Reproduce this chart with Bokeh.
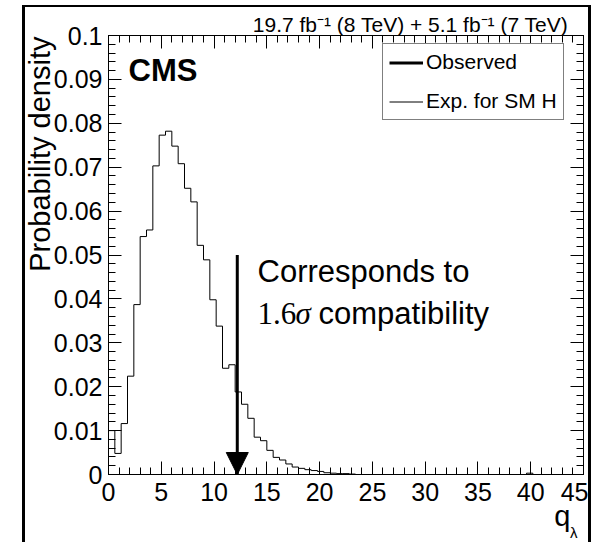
import math
from bokeh.plotting import figure
from bokeh.models import (Range1d, FixedTicker, LinearAxis, CustomJSTickFormatter,
                          Label, Legend, LegendItem, Arrow, NormalHead, Title)
from bokeh.embed import file_html
from bokeh.resources import INLINE

# ---- data ----
bin_width = 0.6
x_min, x_max = 0.0, 45.0
y_min, y_max = 0.0, 0.1
expected_density = [
    0.0100, 0.0048, 0.0116, 0.0224, 0.0387, 0.0542, 0.0557, 0.0703, 0.0773, 0.0782,
    0.0748, 0.0708, 0.0652, 0.0621, 0.0522, 0.0489, 0.0398, 0.0338, 0.0242, 0.0250,
    0.0188, 0.0160, 0.0128, 0.0085, 0.0077, 0.0055, 0.0039, 0.0033, 0.0024, 0.0017,
    0.0014, 0.0011, 0.0009, 0.0007, 0.0004, 0.0003, 0.0002, 0.0002, 0.0001, 0.0,
    0.0, 0.0, 0.0, 0.0, 0.0, 0.0, 0.0, 0.0, 0.0, 0.0,
    0.0, 0.0, 0.0, 0.0, 0.0, 0.0, 0.0, 0.0, 0.0, 0.0,
    0.0, 0.0, 0.0, 0.0, 0.0, 0.0, 0.0003, 0.0, 0.0, 0.0,
    0.0, 0.0, 0.0, 0.0, 0.0,
]
observed_q = 12.2
observed_arrow_top = 0.05
x_major_ticks = [0, 5, 10, 15, 20, 25, 30, 35, 40, 45]
x_minor_ticks = list(range(0, 46))
y_major_ticks = [i / 100 for i in range(0, 11)]
y_minor_ticks = [i / 500 for i in range(0, 51)]
legend_labels = ["Observed", "Exp. for SM H"]
lumi_text = "19.7 fb\u207b\u00b9 (8 TeV) + 5.1 fb\u207b\u00b9 (7 TeV)"
y_title = "Probability density"
x_title = "q"
x_title_sub = "\u03bb"
note_line1 = "Corresponds to"
note_num = "1.6"
note_sigma = "\u03c3"
note_rest = "compatibility"

FONT = "Liberation Sans"

# page geometry (reference pixels); canvas sits inside a CSS frame
OX, OY = 25, 7                     # canvas origin on the page
W, H = 569, 537                    # canvas size
FL, FT, FR, FB = 108, 35, 583, 474  # frame on the page
L, T = FL - OX, FT - OY
R, B = OX + W - FR, OY + H - FB
fw, fh = FR - FL, FB - FT
LABEL_DY = 10  # empirical baseline correction for labels


def px_to_x(px):
    return x_min + (px - FL) / fw * (x_max - x_min)


def py_to_y(py):
    return y_min + (FB - (py - LABEL_DY)) / fh * (y_max - y_min)


p = figure(width=W, height=H, output_backend="svg", toolbar_location=None,
           x_range=Range1d(x_min, x_max), y_range=Range1d(y_min, y_max),
           min_border_left=L, min_border_right=R, min_border_top=T, min_border_bottom=B,
           x_axis_type=None, y_axis_type=None)
p.margin = (5, 0, 0, 22)
p.styles = {"border-left": "3px solid black", "border-right": "3px solid black",
            "border-top": "2px solid black"}
p.grid.visible = False
p.outline_line_color = "black"
p.outline_line_width = 1
p.background_fill_color = "white"
p.border_fill_color = "white"

xt = FixedTicker(ticks=x_major_ticks, minor_ticks=x_minor_ticks)
yt = FixedTicker(ticks=y_major_ticks, minor_ticks=y_minor_ticks)
yfmt = CustomJSTickFormatter(code="""
    if (Math.abs(tick) < 1e-9) return "0";
    return String(Math.round(tick*100)/100);
""")
xfmt = CustomJSTickFormatter(code="return String(Math.round(tick));")


def style_axis(ax, labels=True):
    ax.axis_line_color = "black"
    ax.major_tick_line_color = "black"
    ax.minor_tick_line_color = "black"
    ax.major_tick_in = 13
    ax.major_tick_out = 0
    ax.minor_tick_in = 7
    ax.minor_tick_out = 0
    ax.major_label_text_font = FONT
    if labels:
        ax.major_label_text_color = "black"
        ax.major_label_text_font_size = "25px"
    else:
        ax.major_label_text_color = None
        ax.major_label_text_font_size = "0px"
        ax.major_label_standoff = 0


xb = LinearAxis(ticker=xt, formatter=xfmt)
style_axis(xb)
xb.major_label_standoff = 8
p.add_layout(xb, "below")
xa = LinearAxis(ticker=xt, formatter=xfmt)
style_axis(xa, labels=False)
p.add_layout(xa, "above")
yl = LinearAxis(ticker=yt, formatter=yfmt)
style_axis(yl)
yl.major_label_standoff = 6
p.add_layout(yl, "left")
yr = LinearAxis(ticker=yt, formatter=yfmt)
style_axis(yr, labels=False)
p.add_layout(yr, "right")

# titles outside the frame
t_lumi = Title(text=lumi_text, align="right", text_font=FONT, text_font_size="21px",
               text_font_style="normal", text_color="black", standoff=-1, offset=15)
p.add_layout(t_lumi, "above")
t_y = Title(text=y_title, align="right", text_font=FONT, text_font_size="29px",
            text_font_style="normal", text_color="black", standoff=-10, offset=1)
p.add_layout(t_y, "left")
t_q = Title(text=x_title, align="right", text_font=FONT, text_font_size="29px",
            text_font_style="normal", text_color="black", standoff=-12, offset=13)
p.add_layout(t_q, "below")
t_l = Title(text=x_title_sub, align="right", text_font=FONT, text_font_size="15px",
            text_font_style="normal", text_color="black", standoff=-8, offset=6)
p.add_layout(t_l, "below")

# histogram outline
edges = [x_min + i * bin_width for i in range(len(expected_density) + 1)]
step_y = list(expected_density) + [0.0]
hist = p.step(edges, step_y, mode="after", line_color="black", line_width=1)

# observed arrow
obs = p.segment(x0=[observed_q], y0=[observed_arrow_top], x1=[observed_q], y1=[y_min],
                line_color="black", line_width=3)
p.add_layout(Arrow(end=NormalHead(size=22, fill_color="black", line_color="black"),
                   x_start=observed_q, y_start=observed_arrow_top,
                   x_end=observed_q, y_end=y_min, line_alpha=0))

legend = Legend(items=[LegendItem(label=legend_labels[0], renderers=[obs]),
                       LegendItem(label=legend_labels[1], renderers=[hist])],
                location=(274, 354))
legend.border_line_color = "black"
legend.border_line_width = 1
legend.background_fill_alpha = 1
legend.label_text_font = FONT
legend.label_text_font_size = "21px"
legend.label_text_color = "black"
legend.glyph_width = 34
legend.glyph_height = 23
legend.label_height = 23
legend.label_standoff = 3
legend.spacing = 15
legend.padding = 6
legend.margin = 0
p.add_layout(legend, "center")

# texts inside the frame
p.add_layout(Label(x=px_to_x(128), y=py_to_y(80), text="CMS", text_font=FONT,
                   text_font_style="bold", text_font_size="31px", text_color="black",
                   text_baseline="alphabetic"))
p.add_layout(Label(x=px_to_x(257), y=py_to_y(281), text=note_line1, text_font=FONT,
                   text_font_size="31px", text_color="black", text_baseline="alphabetic"))
p.add_layout(Label(x=px_to_x(257), y=py_to_y(323), text=note_num, text_font="Liberation Serif",
                   text_font_size="31px", text_color="black", text_baseline="alphabetic"))
p.add_layout(Label(x=px_to_x(295), y=py_to_y(323), text=note_sigma, text_font="Liberation Serif",
                   text_font_style="italic", text_font_size="31px", text_color="black",
                   text_baseline="alphabetic"))
p.add_layout(Label(x=px_to_x(318), y=py_to_y(323), text=note_rest, text_font=FONT,
                   text_font_size="31px", text_color="black", text_baseline="alphabetic"))

open("out.html", "w").write(file_html(p, INLINE))
